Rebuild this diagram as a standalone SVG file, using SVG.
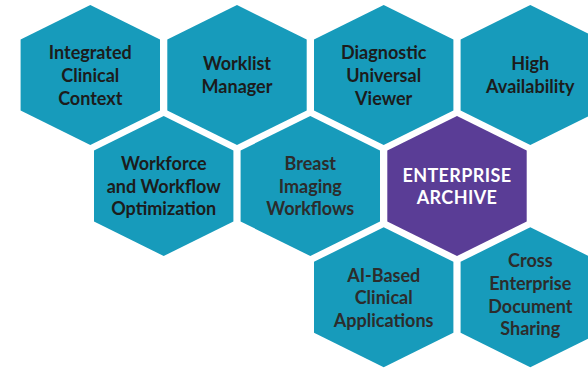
<svg xmlns="http://www.w3.org/2000/svg" xmlns:xlink="http://www.w3.org/1999/xlink" width="588" height="369" viewBox="0 0 588 369">
<defs>
<polygon id="hex" points="0,-70 69.7,-35.5 69.7,35.5 0,70 -69.7,35.5 -69.7,-35.5"/>
<style>
.teal{fill:#179bbb}
.purple{fill:#5a3d96}
text{font-family:Lato,"Source Sans Pro","Open Sans",sans-serif;font-weight:700;font-size:18px;text-anchor:middle;fill:#1c1c1c}
.gray{fill:#2c2c2c}
.white{fill:#ffffff;letter-spacing:0.4px}
</style>
</defs>
<rect width="588" height="369" fill="#ffffff"/>
<g id="integrated-clinical-context">
<use href="#hex" x="90.3" y="75" class="teal"/>
<text x="90.3" y="59.3">Integrated</text>
<text x="90.3" y="82">Clinical</text>
<text x="90.3" y="104.7">Context</text>
</g>
<g id="worklist-manager">
<use href="#hex" x="237" y="75" class="teal"/>
<text x="237" y="70.3">Worklist</text>
<text x="237" y="93">Manager</text>
</g>
<g id="diagnostic-universal-viewer">
<use href="#hex" x="383.7" y="75" class="teal"/>
<text x="383.7" y="59.3">Diagnostic</text>
<text x="383.7" y="82">Universal</text>
<text x="383.7" y="104.7">Viewer</text>
</g>
<g id="high-availability">
<use href="#hex" x="530.3" y="75" class="teal"/>
<text x="530.3" y="70.3">High</text>
<text x="530.3" y="93">Availability</text>
</g>
<g id="workforce-workflow-optimization">
<use href="#hex" x="163.7" y="186" class="teal"/>
<text x="163.7" y="170">Workforce</text>
<text x="163.7" y="192.7">and Workflow</text>
<text x="163.7" y="215.3">Optimization</text>
</g>
<g id="breast-imaging-workflows">
<use href="#hex" x="310.3" y="186" class="teal"/>
<text x="310.3" y="170" class="gray">Breast</text>
<text x="310.3" y="192.7" class="gray">Imaging</text>
<text x="310.3" y="215.3" class="gray">Workflows</text>
</g>
<g id="enterprise-archive">
<use href="#hex" x="457" y="186" class="purple"/>
<text x="457" y="181.7" class="white">ENTERPRISE</text>
<text x="457" y="204.3" class="white">ARCHIVE</text>
</g>
<g id="ai-based-clinical-applications">
<use href="#hex" x="383.7" y="297.3" class="teal"/>
<text x="383.7" y="281.7" class="gray">AI-Based</text>
<text x="383.7" y="304.3" class="gray">Clinical</text>
<text x="383.7" y="327" class="gray">Applications</text>
</g>
<g id="cross-enterprise-document-sharing">
<use href="#hex" x="530.3" y="297.3" class="teal"/>
<text x="530.3" y="267.3" class="gray">Cross</text>
<text x="530.3" y="290" class="gray">Enterprise</text>
<text x="530.3" y="312.7" class="gray">Document</text>
<text x="530.3" y="335.3" class="gray">Sharing</text>
</g>
</svg>
